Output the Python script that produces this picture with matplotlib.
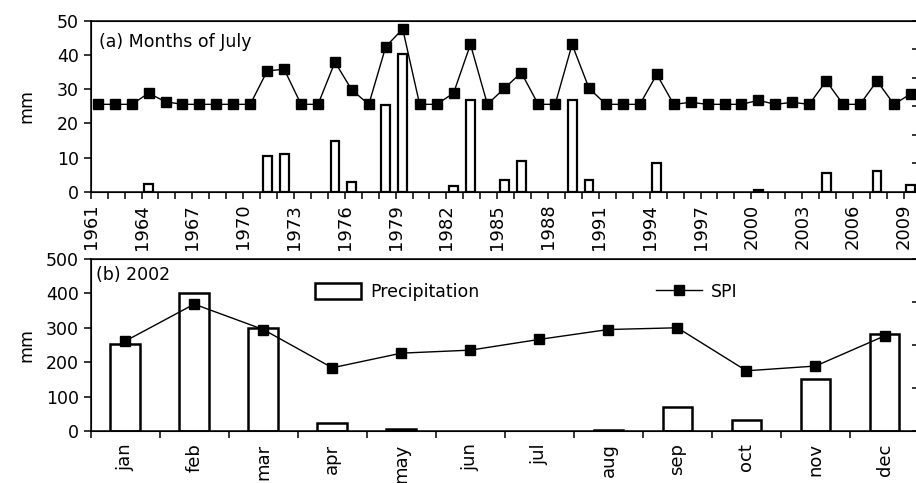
import numpy as np
import matplotlib
matplotlib.use("Agg")
import matplotlib.pyplot as plt

## Data
# (a) July of each year, 1961-2009
years = np.arange(1961, 2010)
july_precip = [0, 0, 0, 2.2, 0, 0, 0, 0, 0, 0,
               10.5, 11.0, 0, 0, 15.0, 2.8, 0, 25.3, 40.2, 0,
               0, 1.8, 26.8, 0, 3.4, 9.0, 0, 0, 26.8, 3.4,
               0, 0, 0, 8.5, 0, 0, 0, 0, 0, 0.5,
               0, 0, 0, 5.5, 0, 0, 6.0, 0, 1.9]
july_spi = [0.07, 0.07, 0.07, 0.46, 0.16, 0.07, 0.07, 0.07, 0.07, 0.07,
            1.24, 1.30, 0.07, 0.07, 1.55, 0.57, 0.07, 2.09, 2.71, 0.07,
            0.07, 0.46, 2.17, 0.07, 0.63, 1.18, 0.07, 0.07, 2.17, 0.63,
            0.07, 0.07, 0.07, 1.12, 0.07, 0.14, 0.07, 0.07, 0.07, 0.21,
            0.07, 0.14, 0.07, 0.89, 0.07, 0.07, 0.89, 0.07, 0.44]

# (b) months of 2002
months = ['jan', 'feb', 'mar', 'apr', 'may', 'jun',
          'jul', 'aug', 'sep', 'oct', 'nov', 'dec']
precip_2002 = [252, 400, 298, 22, 6, 0, 0, 3, 70, 33, 150, 283]
spi_2002 = [0.09, 0.95, 0.36, -0.53, -0.19, -0.12,
            0.13, 0.36, 0.40, -0.60, -0.49, 0.21]

FS = 12.5
plt.rcParams['font.family'] = 'DejaVu Sans'
plt.rcParams['font.size'] = FS

fig = plt.figure(figsize=(9.16, 4.83), dpi=100)
ax1 = fig.add_axes([0.099, 0.6025, 0.9043, 0.3547])
ax2 = fig.add_axes([0.099, 0.1077, 0.9043, 0.3561])


def style_axes(ax):
    for s in ax.spines.values():
        s.set_linewidth(1.1)
    ax.tick_params(axis='both', direction='out', length=5, width=1.1, colors='black')


# top panel
xa = years - years[0] + 0.42
pa = np.array(july_precip)
wet = pa > 0  # dry years give no bar
ax1.bar(xa[wet], pa[wet], width=0.52, facecolor='white', edgecolor='black', linewidth=1.6)
ax1.set_ylim(0, 50)
ax1.set_yticks(range(0, 51, 10))
ax1.set_xlim(0, 48.9)
ax1.set_xticks(np.arange(len(years)))
ax1.set_xticklabels([str(y) if (y - 1961) % 3 == 0 else '' for y in years],
                    rotation=90, fontsize=13)
ax1.set_ylabel('mm')
ax1.yaxis.set_label_coords(-0.067, 0.5)
ax1.text(0.01, 0.875, '(a) Months of July', transform=ax1.transAxes, va='center', ha='left')
style_axes(ax1)

t1 = ax1.twinx()
t1.plot(xa, july_spi, '-s', color='black', linewidth=1.0, markersize=7)
t1.set_ylim(-3, 3)
t1.set_yticks(range(-3, 4))
t1.tick_params(axis='y', direction='in', length=5, width=1.1, labelright=False)

# bottom panel
xb = np.arange(len(months)) + 0.5
pb = np.array(precip_2002)
ax2.bar(xb[pb > 0], pb[pb > 0], width=0.43, facecolor='white', edgecolor='black',
        linewidth=1.8, label='Precipitation')
ax2.set_ylim(0, 500)
ax2.set_yticks(range(0, 501, 100))
ax2.set_xlim(0, 12)
ax2.set_xticks(range(12))
ax2.set_xticklabels([])
ax2.set_xticks(xb, minor=True)
ax2.set_xticklabels(months, minor=True, rotation=90, fontsize=13)
ax2.set_ylabel('mm')
ax2.yaxis.set_label_coords(-0.067, 0.5)
ax2.text(0.007, 0.907, '(b) 2002', transform=ax2.transAxes, va='center', ha='left')
style_axes(ax2)
ax2.tick_params(axis='x', which='minor', length=0, pad=9)

t2 = ax2.twinx()
t2.plot(xb, spi_2002, '-s', color='black', linewidth=1.0, markersize=6.5, label='SPI')
t2.set_ylim(-2, 2)
t2.set_yticks(range(-2, 3))
t2.tick_params(axis='y', direction='in', length=5, width=1.1, labelright=False)

h1, l1 = ax2.get_legend_handles_labels()
h2, l2 = t2.get_legend_handles_labels()
t2.legend(h1 + h2, l1 + l2, ncol=2, frameon=False, loc='center left',
          bbox_to_anchor=(0.271, 0.808), borderpad=0, borderaxespad=0,
          handlelength=2.65, handleheight=1.0, handletextpad=0.5,
          columnspacing=10.2, fontsize=FS)

fig.savefig('out.png', dpi=100)
